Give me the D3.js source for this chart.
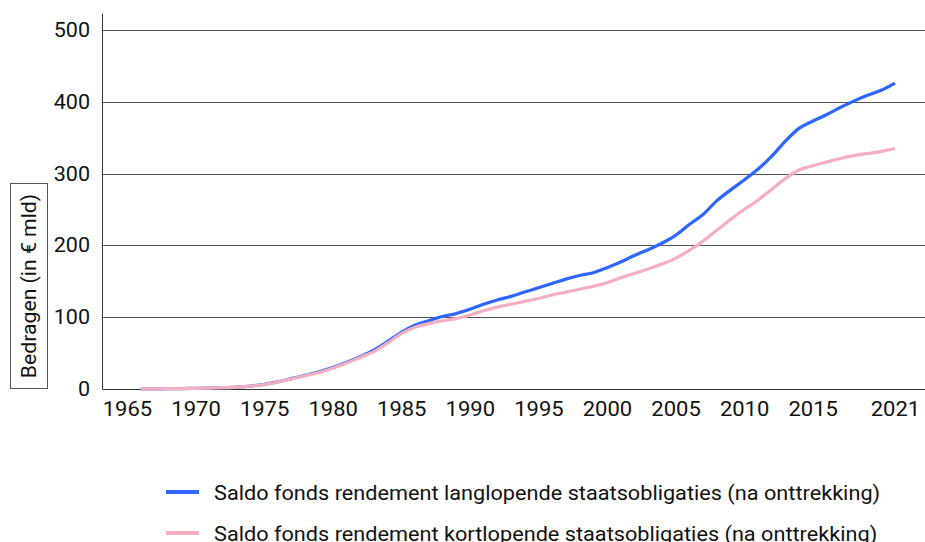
<!DOCTYPE html>
<html><head><meta charset="utf-8">
<script src="https://cdn.jsdelivr.net/npm/d3@7"></script>
<style>body{margin:0;background:#fff}svg{display:block}text{font-family:Roboto,"Noto Sans",sans-serif;fill:#111}</style>
</head><body>
<svg id="c" width="925" height="542"></svg>
<script>
const years = d3.range(1966, 2022);
const lang = [0,0.2,0.4,0.6,0.9,1.3,1.8,2.6,4,6.5,10,14.5,19,24,30,37,45,54,66,79,89,95,101,105,111,118,124,129,135,141,147,153,158,162,169,177,186,194,203,214,229,243,262,277,291,306,324,345,363,373,382,392,401,409,416,426];
const kort = [0,0.2,0.4,0.6,0.9,1.3,1.8,2.6,4,6.3,9.6,14,18.5,23,29,36,44,52,64,77,86,91,95,98,103,109,114,118,122,126,131,135,139,143,148,155,161,167,174,182,193,206,221,236,250,263,278,293,305,311,316,321,325,328,331,335];
const xTicks = [1965,1970,1975,1980,1985,1990,1995,2000,2005,2010,2015,2021];
const yTicks = [0,100,200,300,400,500];
const seriesNames = ["Saldo fonds rendement langlopende staatsobligaties (na onttrekking)","Saldo fonds rendement kortlopende staatsobligaties (na onttrekking)"];
const colors = ["#2f66ff","#f5aec0"];
const yLabel = "Bedragen (in € mld)";

const svg = d3.select("#c");
const x = d3.scaleLinear().domain([1963.18, 2023.19]).range([102, 925]);
const y = d3.scaleLinear().domain([0, 523.7]).range([389, 13]);

// gridlines
svg.append("g").selectAll("line").data(yTicks.filter(d=>d>0)).join("line")
  .attr("x1",102).attr("x2",925).attr("y1",d=>Math.round(y(d))+0.5).attr("y2",d=>Math.round(y(d))+0.5)
  .attr("stroke","#555").attr("stroke-width",1);

// y axis
const ya = svg.append("g").attr("transform","translate(102,0)")
  .call(d3.axisLeft(y).tickValues(yTicks).tickSize(0).tickPadding(11).tickFormat(d3.format("d")));
ya.select(".domain").attr("stroke","#333");
ya.selectAll("text").style("font-size","20px").style("font-family","Roboto").attr("fill","#111")
  .attr("transform","scale(1.08,1)");

// x axis
const xa = svg.append("g").attr("transform","translate(0,389)")
  .call(d3.axisBottom(x).tickValues(xTicks).tickSize(0).tickPadding(13).tickFormat(d3.format("d")));
xa.select(".domain").attr("stroke","#333");
xa.selectAll("text").style("font-size","20px").style("font-family","Roboto").attr("fill","#111")
  .attr("transform","scale(1.1,1)");

// lines
const line = d3.line().x((d,i)=>x(years[i])).y(d=>y(d)).curve(d3.curveMonotoneX);
[lang,kort].forEach((s,k)=>{
  svg.append("path").datum(s).attr("d",line).attr("fill","none")
    .attr("stroke",colors[k]).attr("stroke-width",3.2).attr("stroke-linejoin","round");
});

// y label box
svg.append("rect").attr("x",10.5).attr("y",183.5).attr("width",37).attr("height",205)
  .attr("fill","none").attr("stroke","#555");
svg.append("text").attr("transform","translate(29,286) rotate(-90) scale(1.06,1)").attr("text-anchor","middle")
  .attr("dominant-baseline","central").style("font-size","20px").text(yLabel);

// legend
const lg = svg.append("g");
seriesNames.forEach((n,k)=>{
  const yy = 492 + k*41;
  lg.append("line").attr("x1",166).attr("x2",199).attr("y1",yy).attr("y2",yy)
    .attr("stroke",colors[k]).attr("stroke-width",4);
  lg.append("text").attr("transform",`translate(214,${yy+7.5}) scale(1.085,1)`).style("font-size","20px").text(n);
});
</script>
</body></html>
